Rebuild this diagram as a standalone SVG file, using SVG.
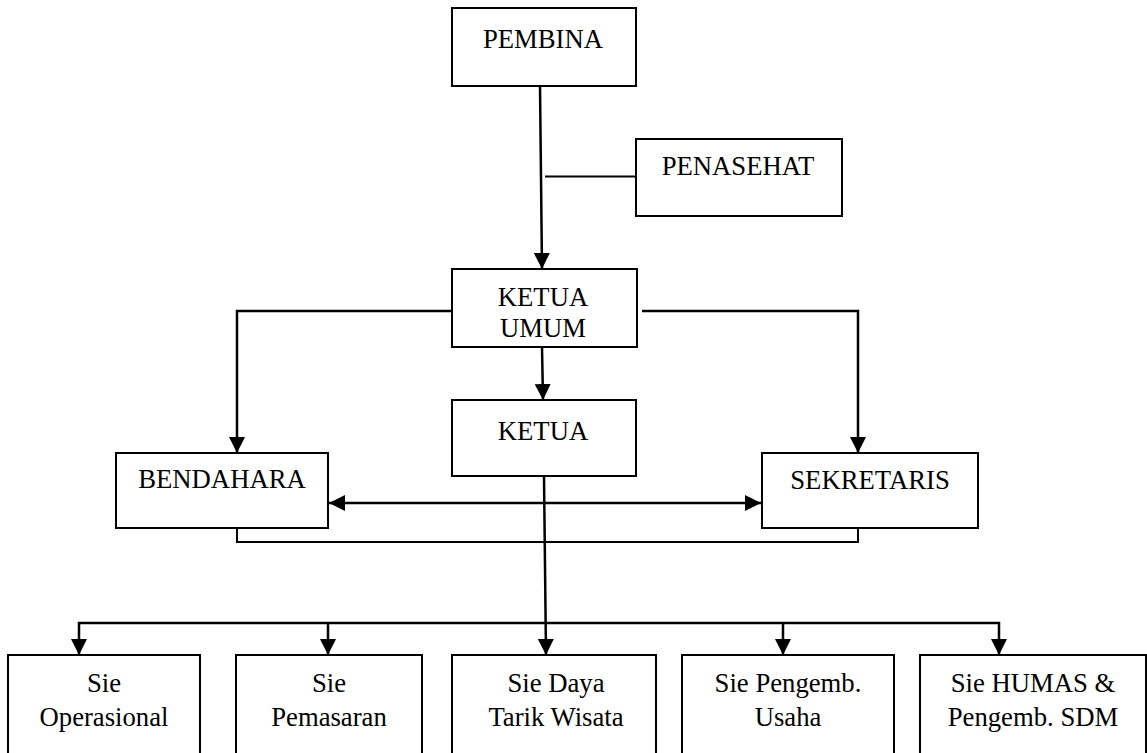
<svg xmlns="http://www.w3.org/2000/svg" width="1147" height="753" viewBox="0 0 1147 753">
<style>
.box{fill:#fff;stroke:#000;stroke-width:2}
.t{font-family:'Liberation Serif','DejaVu Serif','Times New Roman',serif;font-size:26.7px;fill:#000;text-anchor:middle}
.c{fill:none;stroke:#000;stroke-width:2.5}
.c2{fill:none;stroke:#000;stroke-width:2}
</style>
<defs>
<marker id="ah" markerUnits="userSpaceOnUse" markerWidth="16" markerHeight="17" viewBox="0 0 16 17" refX="16" refY="8.5" orient="auto-start-reverse">
<path d="M0,0.5 L16,8.5 L0,16.5 Z" fill="#000"/>
</marker>
</defs>
<rect width="1147" height="753" fill="#fff"/>
<g id="connectors">
<line class="c" x1="540" y1="86" x2="542" y2="269" marker-end="url(#ah)"/>
<line class="c2" x1="545" y1="176.5" x2="636" y2="176.5"/>
<polyline class="c" points="452,311 237,311 237,453" marker-end="url(#ah)"/>
<polyline class="c" points="642,311 858,311 858,453" marker-end="url(#ah)"/>
<line class="c" x1="542" y1="347" x2="543" y2="400" marker-end="url(#ah)"/>
<line class="c" x1="329" y1="503" x2="761" y2="503" marker-start="url(#ah)" marker-end="url(#ah)"/>
<polyline class="c2" points="237,528 237,542 858,542 858,528"/>
<line class="c" x1="544" y1="476" x2="546" y2="655" marker-end="url(#ah)"/>
<polyline class="c" points="79,655 79,623 999,623 999,655" marker-start="url(#ah)" marker-end="url(#ah)"/>
<line class="c" x1="328" y1="623" x2="328" y2="655" marker-end="url(#ah)"/>
<line class="c" x1="783" y1="623" x2="783" y2="655" marker-end="url(#ah)"/>
</g>
<g id="pembina"><rect class="box" x="452" y="8" width="184" height="78"/><text class="t" font-family="Liberation Serif, serif" x="543" y="48">PEMBINA</text></g>
<g id="penasehat"><rect class="box" x="636" y="139" width="206" height="77"/><text class="t" font-family="Liberation Serif, serif" x="738" y="175">PENASEHAT</text></g>
<g id="ketua-umum"><rect class="box" x="452" y="269" width="185" height="78"/><text class="t" font-family="Liberation Serif, serif" x="543" y="306">KETUA</text><text class="t" font-family="Liberation Serif, serif" x="543" y="337">UMUM</text></g>
<g id="ketua"><rect class="box" x="452" y="400" width="184" height="76"/><text class="t" font-family="Liberation Serif, serif" x="543" y="440">KETUA</text></g>
<g id="bendahara"><rect class="box" x="116" y="453" width="212" height="75"/><text class="t" font-family="Liberation Serif, serif" x="222" y="488">BENDAHARA</text></g>
<g id="sekretaris"><rect class="box" x="762" y="453" width="216" height="75"/><text class="t" font-family="Liberation Serif, serif" x="870" y="489">SEKRETARIS</text></g>
<g id="sie-operasional"><rect class="box" x="8" y="655" width="192" height="110"/><text class="t" font-family="Liberation Serif, serif" x="104" y="692">Sie</text><text class="t" font-family="Liberation Serif, serif" x="104" y="726">Operasional</text></g>
<g id="sie-pemasaran"><rect class="box" x="236" y="655" width="186" height="110"/><text class="t" font-family="Liberation Serif, serif" x="329" y="692">Sie</text><text class="t" font-family="Liberation Serif, serif" x="329" y="726">Pemasaran</text></g>
<g id="sie-daya-tarik"><rect class="box" x="452" y="655" width="204" height="110"/><text class="t" font-family="Liberation Serif, serif" x="556" y="692">Sie Daya</text><text class="t" font-family="Liberation Serif, serif" x="556" y="726">Tarik Wisata</text></g>
<g id="sie-pengemb-usaha"><rect class="box" x="682" y="655" width="212" height="110"/><text class="t" font-family="Liberation Serif, serif" x="788" y="692">Sie Pengemb.</text><text class="t" font-family="Liberation Serif, serif" x="788" y="726">Usaha</text></g>
<g id="sie-humas"><rect class="box" x="920" y="655" width="226" height="110"/><text class="t" font-family="Liberation Serif, serif" x="1033" y="692">Sie HUMAS &amp;</text><text class="t" font-family="Liberation Serif, serif" x="1033" y="726">Pengemb. SDM</text></g>
</svg>
